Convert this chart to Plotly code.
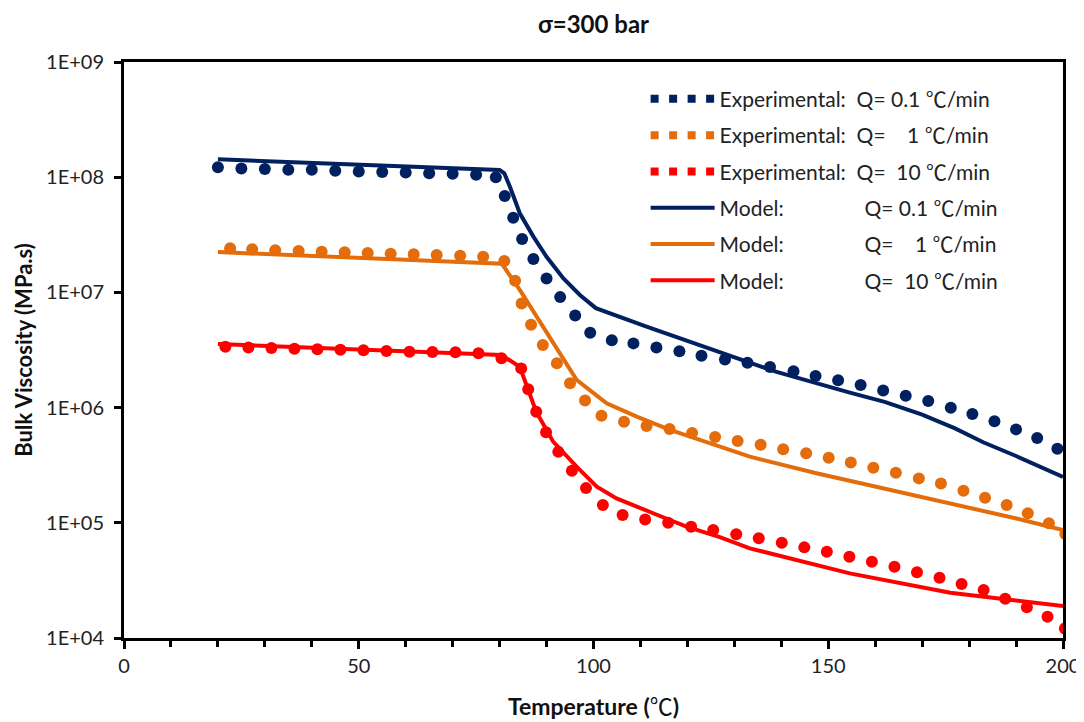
import plotly.graph_objects as go

# ---------------- data ----------------
# Experimental, Q = 0.1 C/min
exp01_T = [20, 25, 30, 35, 40, 45, 50, 55, 60, 65, 70, 75, 79.2,
           81.1, 82.9, 84.8, 87.2, 90.0, 92.9, 96.1, 99.3, 103.9, 108.5, 113.4, 118.3,
           123.0, 128.0, 132.8, 137.6, 142.6, 147.3, 152.1, 156.9, 161.7, 166.5, 171.3,
           176.1, 180.7, 185.4, 190.0, 194.5, 198.8]
exp01_V = [1.22e8, 1.19e8, 1.18e8, 1.16e8, 1.16e8, 1.14e8, 1.12e8, 1.11e8, 1.10e8, 1.08e8, 1.07e8, 1.05e8, 9.98e7,
           6.87e7, 4.45e7, 2.91e7, 1.95e7, 1.32e7, 9.1e6, 6.3e6, 4.47e6, 3.84e6, 3.61e6, 3.33e6, 3.09e6,
           2.82e6, 2.62e6, 2.45e6, 2.25e6, 2.07e6, 1.88e6, 1.73e6, 1.57e6, 1.41e6, 1.27e6, 1.14e6,
           9.98e5, 8.79e5, 7.60e5, 6.47e5, 5.45e5, 4.40e5]

# Experimental, Q = 1 C/min
exp1_T = [22.6, 27.3, 32.2, 37.2, 42.1, 47.0, 51.9, 56.8, 61.7, 66.6, 71.6, 76.5,
          81.0, 83.3, 84.7, 86.7, 89.2, 92.2, 95.0, 98.2, 101.7, 106.5, 111.3, 116.2,
          121.0, 125.9, 130.7, 135.6, 140.4, 145.3, 150.1, 154.8, 159.6, 164.4, 169.3,
          174.0, 178.8, 183.4, 188.0, 192.5, 197.0, 200.5]
exp1_V = [2.42e7, 2.37e7, 2.32e7, 2.29e7, 2.25e7, 2.23e7, 2.20e7, 2.17e7, 2.14e7, 2.11e7, 2.08e7, 2.04e7,
          1.87e7, 1.26e7, 8.0e6, 5.25e6, 3.49e6, 2.43e6, 1.63e6, 1.15e6, 8.5e5, 7.55e5, 6.92e5, 6.52e5,
          6.03e5, 5.56e5, 5.14e5, 4.75e5, 4.35e5, 4.01e5, 3.67e5, 3.33e5, 3.01e5, 2.72e5, 2.43e5,
          2.19e5, 1.90e5, 1.65e5, 1.43e5, 1.21e5, 9.9e4, 8.0e4]

# Experimental, Q = 10 C/min
exp10_T = [21.6, 26.5, 31.4, 36.3, 41.2, 46.1, 51.0, 55.9, 60.8, 65.7, 70.6, 75.5,
           80.4, 84.6, 86.1, 87.8, 89.9, 92.5, 95.4, 98.4, 102.0, 106.2, 111.0, 115.9,
           120.8, 125.5, 130.4, 135.2, 140.1, 144.9, 149.7, 154.5, 159.3, 164.1, 168.9,
           173.7, 178.4, 183.1, 187.7, 192.3, 196.7, 200.4]
exp10_V = [3.38e6, 3.33e6, 3.29e6, 3.24e6, 3.21e6, 3.18e6, 3.14e6, 3.10e6, 3.05e6, 3.04e6, 3.02e6, 2.96e6,
           2.68e6, 2.19e6, 1.44e6, 9.2e5, 6.11e5, 4.14e5, 2.83e5, 2.0e5, 1.43e5, 1.17e5, 1.07e5, 1.0e5,
           9.25e4, 8.67e4, 7.94e4, 7.33e4, 6.71e4, 6.12e4, 5.61e4, 5.08e4, 4.59e4, 4.16e4, 3.72e4,
           3.33e4, 2.94e4, 2.61e4, 2.19e4, 1.85e4, 1.53e4, 1.21e4]

# Model curves
mod01_T = [20, 80, 81, 82.2, 84.3, 87.2, 90, 93.6, 97.1, 100.5, 111.3, 125.5, 139, 154.6, 162, 170, 177,
           183, 190, 200]
mod01_V = [1.43e8, 1.155e8, 1.08e8, 8.26e7, 4.86e7, 3.05e7, 2.04e7, 1.32e7, 9.5e6, 7.3e6, 5.04e6,
           3.16e6, 2.04e6, 1.35e6, 1.12e6, 8.7e5, 6.6e5, 5.0e5, 3.8e5, 2.5e5]

mod1_T = [20, 80.5, 84.3, 87.9, 92.2, 96.4, 102.8, 109.2, 116.3, 126.9, 133.3, 147.5, 161.7, 176, 190.1, 200]
mod1_V = [2.24e7, 1.77e7, 1.05e7, 6.15e6, 3.16e6, 1.74e6, 1.09e6, 8.34e5, 6.4e5, 4.58e5, 3.75e5,
          2.69e5, 2.0e5, 1.48e5, 1.09e5, 8.65e4]

mod10_T = [20, 80.4, 84.3, 86.1, 87.8, 91.4, 96.4, 100.7, 104.9, 112.7, 119.8, 126.9, 133.3, 154.6, 176, 200]
mod10_V = [3.56e6, 2.86e6, 2.26e6, 1.42e6, 9.2e5, 5.06e5, 3.07e5, 2.06e5, 1.63e5, 1.21e5, 9.25e4,
           7.5e4, 6.0e4, 3.64e4, 2.47e4, 1.9e4]

y_tickvals = [1e4, 1e5, 1e6, 1e7, 1e8, 1e9]
y_ticktext = ["1E+04", "1E+05", "1E+06", "1E+07", "1E+08", "1E+09"]

NB = "\u00a0"
DEG = "<span style=\"font-family:'Noto Sans CJK SC';font-weight:normal\">℃</span>"
exp_names = [
    "Experimental:" + NB * 2 + "Q=" + NB + "0.1" + NB + DEG + "/min",
    "Experimental:" + NB * 2 + "Q=" + NB * 4 + "1" + NB + DEG + "/min",
    "Experimental:" + NB * 2 + "Q=" + NB * 2 + "10" + NB + DEG + "/min",
]
mod_names = [
    "Model:" + NB * 15 + "Q=" + NB + "0.1" + NB + DEG + "/min",
    "Model:" + NB * 15 + "Q=" + NB * 4 + "1" + NB + DEG + "/min",
    "Model:" + NB * 15 + "Q=" + NB * 2 + "10" + NB + DEG + "/min",
]

NAVY = "#002060"
ORANGE = "#E46C0A"
RED = "#FF0000"
colors = [NAVY, ORANGE, RED]

FONT = "Lato, 'Open Sans', sans-serif"

# The page places the figure 8px in from the top-left corner (default body margin),
# so the figure is sized to end at the window edge.
W, H = 1076, 714

fig = go.Figure()
exps = [(exp01_T, exp01_V), (exp1_T, exp1_V), (exp10_T, exp10_V)]
mods = [(mod01_T, mod01_V), (mod1_T, mod1_V), (mod10_T, mod10_V)]

for i, (T, V) in enumerate(exps):
    fig.add_trace(go.Scatter(x=T, y=V, mode="markers", name=exp_names[i],
                             legendgroup="e%d" % i, showlegend=False,
                             marker=dict(color=colors[i], size=12, line=dict(width=0))))
    # legend key imitating a dotted marker row
    fig.add_trace(go.Scatter(x=[None], y=[None], mode="lines", name=exp_names[i],
                             legendgroup="e%d" % i, showlegend=True, hoverinfo="skip",
                             line=dict(color=colors[i], width=8, dash="8px,10.5px")))
for i, (T, V) in enumerate(mods):
    fig.add_trace(go.Scatter(x=T, y=V, mode="lines", name=mod_names[i],
                             legendgroup="m%d" % i,
                             line=dict(color=colors[i], width=4)))

fig.update_layout(
    width=W, height=H, autosize=False,
    margin=dict(l=116, r=21, t=54, b=84),
    paper_bgcolor="white", plot_bgcolor="white",
    font=dict(family=FONT, color="#222222", size=18),
    title=dict(text="<b>σ=300 bar</b>", x=0.5, xref="paper", xanchor="center",
               y=1 - 17 / H, yref="container", yanchor="middle",
               font=dict(size=24, color="#111111", family=FONT)),
    legend=dict(x=0.5555, y=0.971, xanchor="left", yanchor="top",
                bgcolor="rgba(0,0,0,0)", font=dict(size=21, color="#222222", family=FONT),
                tracegroupgap=6, itemwidth=64),
    showlegend=True,
)

fig.update_xaxes(
    range=[0, 200], tick0=0, dtick=50, ticks="outside", ticklen=8, tickwidth=2.5,
    tickcolor="black", showline=True, linewidth=3, linecolor="black", mirror=True,
    showgrid=False, zeroline=False, automargin=False,
    tickfont=dict(size=20, color="#222222"),
    minor=dict(dtick=10, ticks="outside", ticklen=6, tickwidth=2.5, tickcolor="black", showgrid=False),
    title=dict(text="<b>Temperature (" + DEG + ")</b>", font=dict(size=23, color="#111111"), standoff=24),
)
fig.update_yaxes(
    type="log", range=[4, 9], tickvals=y_tickvals, ticktext=y_ticktext,
    ticks="outside", ticklen=7, tickwidth=2.5, tickcolor="black",
    showline=True, linewidth=3, linecolor="black", mirror=True,
    showgrid=False, zeroline=False, automargin=False, ticklabelstandoff=6,
    tickfont=dict(size=20, color="#222222"),
    title=dict(text="<b>Bulk Viscosity (MPa.s)</b>", font=dict(size=22, color="#111111"), standoff=8),
)

fig.write_html("out.html")
